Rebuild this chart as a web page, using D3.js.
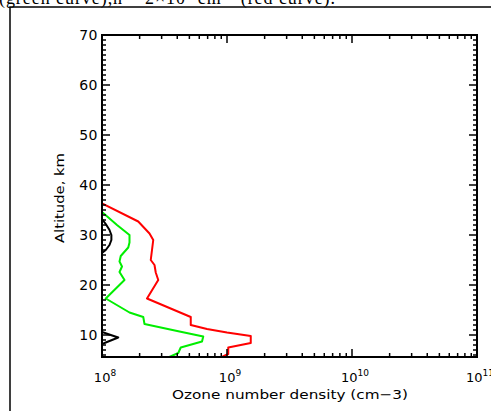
<!DOCTYPE html>
<html lang="en">
<head>
  <meta charset="UTF-8">
  <title>Ozone number density profiles</title>
  <style>
    body { margin: 0; padding: 0; background: #fff; }
    svg { display: block; }
    text { font-family: 'DejaVu Sans', sans-serif; fill: #000; }
  </style>
</head>
<body>
<script src="https://d3js.org/d3.v7.min.js"></script>
<script>
  // profiles: altitude (km) and log10 of density (cm-3)
  const redAlt = [36.3, 32.7, 30.3, 29.0, 27.0, 25.0, 24.0, 22.5, 21.0, 17.3, 13.6, 12.0, 11.2, 10.5, 9.8, 8.4, 7.5, 6.2, 5.4];
  const redLog = [8.0, 8.29, 8.38, 8.41, 8.40, 8.39, 8.42, 8.43, 8.45, 8.36, 8.71, 8.71, 8.84, 9.00, 9.19, 9.19, 9.01, 9.01, 8.94];

  const greenAlt = [34.6, 32.0, 30.0, 28.5, 27.5, 25.8, 24.7, 23.7, 22.6, 21.0, 17.3, 14.5, 13.6, 12.2, 10.7, 9.7, 8.7, 7.5, 6.4, 5.5];
  const greenLog = [8.0, 8.12, 8.22, 8.22, 8.21, 8.15, 8.14, 8.16, 8.14, 8.18, 8.03, 8.22, 8.33, 8.34, 8.62, 8.81, 8.80, 8.63, 8.61, 8.53];

  // black profile only shows up above 1e8 in two small bumps
  const blackAlt1 = [33.2, 32.2, 31.0, 30.0, 29.0, 28.0, 27.0, 26.4];
  const blackLog1 = [8.0, 8.03, 8.06, 8.075, 8.075, 8.06, 8.03, 8.0];
  const blackAlt2 = [10.6, 10.0, 9.5, 9.0, 8.5, 8.2];
  const blackLog2 = [8.0, 8.07, 8.13, 8.08, 8.03, 8.0];

  const yTicks = [10, 20, 30, 40, 50, 60, 70];
  const xDecades = [8, 9, 10, 11];

  const W = 491, H = 411;
  const svg = d3.select('body').append('svg')
    .attr('width', W)
    .attr('height', H);

  // caption line from the page above, mostly cut off
  svg.append('text')
    .attr('x', -1)
    .attr('y', 4)
    .attr('textLength', 336)
    .attr('lengthAdjust', 'spacing')
    .style('font-family', "'Liberation Serif', serif")
    .style('font-size', '18px')
    .html('(green curve),<tspan>n</tspan> = 2×10<tspan dy="-7" font-size="11">8</tspan><tspan dy="7"> cm</tspan><tspan dy="-7" font-size="11">−3</tspan><tspan dy="7"> (red curve).</tspan>');

  // figure frame
  svg.append('path')
    .attr('d', `M10,${H} V7 H${W}`)
    .attr('fill', 'none')
    .attr('stroke', '#000')
    .attr('stroke-width', 1.5);

  const x = d3.scaleLinear().domain([8, 11]).range([102, 477]);
  const y = d3.scaleLinear().domain([5.6, 70]).range([357, 35]);

  const g = svg.append('g');

  // clip curves to the plot box
  svg.append('clipPath').attr('id', 'box')
    .append('rect')
    .attr('x', x(8)).attr('y', y(70))
    .attr('width', x(11) - x(8)).attr('height', y(5.6) - y(70));

  const line = d3.line()
    .x(d => x(d[1]))
    .y(d => y(d[0]));

  const curves = [
    { alt: blackAlt1, val: blackLog1, color: '#000' },
    { alt: blackAlt2, val: blackLog2, color: '#000' },
    { alt: greenAlt, val: greenLog, color: '#00ee00' },
    { alt: redAlt, val: redLog, color: '#ff0000' }
  ];

  g.append('g').attr('clip-path', 'url(#box)')
    .selectAll('path')
    .data(curves)
    .enter().append('path')
    .attr('d', d => line(d.alt.map((a, i) => [a, d.val[i]])))
    .attr('fill', 'none')
    .attr('stroke', d => d.color)
    .attr('stroke-width', 2)
    .attr('stroke-linejoin', 'round');

  // log ticks: decade + 2..9
  const logTicks = [];
  xDecades.slice(0, -1).forEach(dec => {
    for (let k = 2; k <= 9; k++) logTicks.push(dec + Math.log10(k));
  });

  const x0 = x(8), x1 = x(11), y0 = y(5.6), y1 = y(70);
  const ax = g.append('g').attr('stroke', '#000');

  // bottom and top
  ax.selectAll('line.xmaj')
    .data(xDecades)
    .enter().append('line')
    .attr('x1', d => x(d)).attr('x2', d => x(d))
    .attr('y1', y0).attr('y2', y0 - 8)
    .attr('stroke-width', 1.5);
  ax.selectAll('line.xmin')
    .data(logTicks)
    .enter().append('line')
    .attr('x1', d => x(d)).attr('x2', d => x(d))
    .attr('y1', y0).attr('y2', y0 - 4)
    .attr('stroke-width', 1.5);
  ax.selectAll('line.xmajt')
    .data(xDecades)
    .enter().append('line')
    .attr('x1', d => x(d)).attr('x2', d => x(d))
    .attr('y1', y1).attr('y2', y1 + 8)
    .attr('stroke-width', 1.5);
  ax.selectAll('line.xmint')
    .data(logTicks)
    .enter().append('line')
    .attr('x1', d => x(d)).attr('x2', d => x(d))
    .attr('y1', y1).attr('y2', y1 + 4)
    .attr('stroke-width', 1.5);

  // left and right: major every 10, minor every 1 km
  const yMinor = d3.range(6, 71).filter(v => v % 10 !== 0);
  [[x0, 1], [x1, -1]].forEach(([xx, dir]) => {
    ax.append('g').selectAll('line')
      .data(yTicks)
      .enter().append('line')
      .attr('x1', xx).attr('x2', xx + dir * 8)
      .attr('y1', d => y(d)).attr('y2', d => y(d))
      .attr('stroke-width', 1.5);
    ax.append('g').selectAll('line')
      .data(yMinor)
      .enter().append('line')
      .attr('x1', xx).attr('x2', xx + dir * 4)
      .attr('y1', d => y(d)).attr('y2', d => y(d))
      .attr('stroke-width', 1.5);
  });

  ax.append('rect')
    .attr('x', x0).attr('y', y1)
    .attr('width', x1 - x0).attr('height', y0 - y1)
    .attr('fill', 'none')
    .attr('stroke-width', 2);

  // tick labels
  g.selectAll('text.ylab')
    .data(yTicks)
    .enter().append('text')
    .attr('x', x0 - 4)
    .attr('y', d => y(d) + 5)
    .attr('text-anchor', 'end')
    .style('font-size', '14px')
    .style('letter-spacing', '0.5px')
    .text(d => d);

  const xl = g.selectAll('text.xlab')
    .data(xDecades)
    .enter().append('text')
    .attr('x', d => x(d) + 3)
    .attr('y', 382)
    .attr('text-anchor', 'middle')
    .style('font-size', '13px');
  xl.append('tspan').text('10');
  xl.append('tspan')
    .attr('dy', -6)
    .style('font-size', '9px')
    .text(d => d);

  // axis titles
  g.append('text')
    .attr('x', 290)
    .attr('y', 399)
    .attr('text-anchor', 'middle')
    .style('font-size', '13px')
    .attr('textLength', 236)
    .attr('lengthAdjust', 'spacingAndGlyphs')
    .text('Ozone number density (cm−3)');

  g.append('text')
    .attr('transform', 'translate(64,198) rotate(-90)')
    .attr('text-anchor', 'middle')
    .style('font-size', '13px')
    .attr('textLength', 90)
    .attr('lengthAdjust', 'spacingAndGlyphs')
    .text('Altitude, km');
</script>
</body>
</html>
